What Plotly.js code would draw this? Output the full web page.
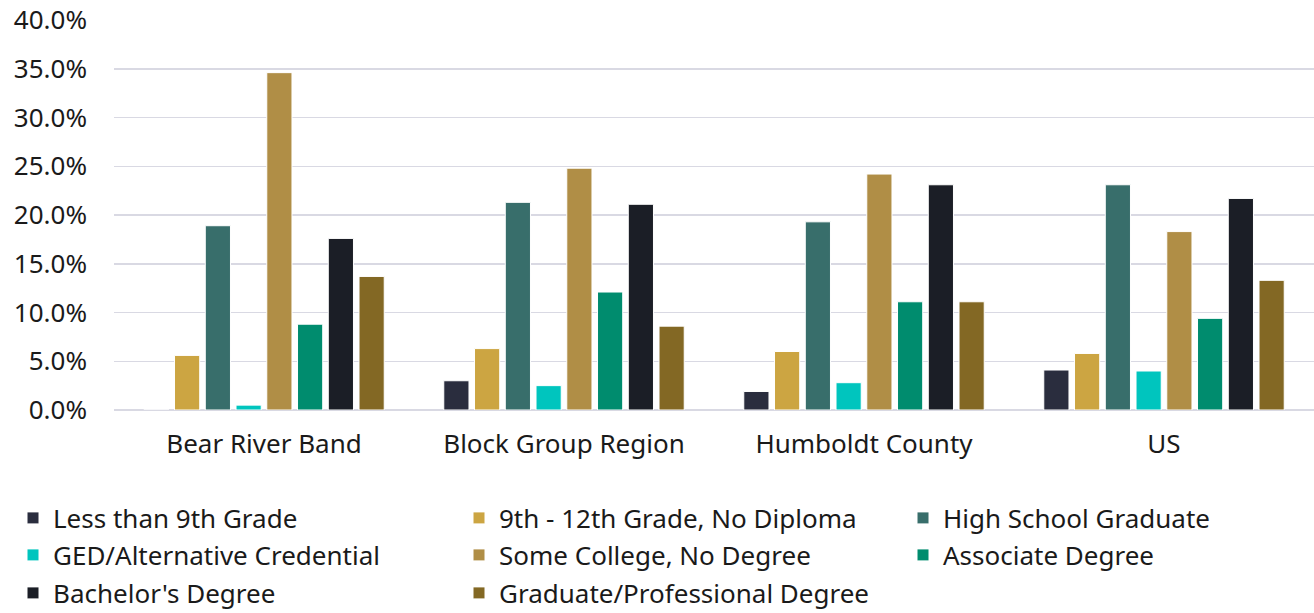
<!DOCTYPE html>
<html>
<head>
<meta charset="utf-8">
<script src="https://cdn.plot.ly/plotly-3.0.1.min.js"></script>
<style>html,body{margin:0;padding:0;background:#fff;}#chart{width:1314px;height:613px;}</style>
</head>
<body>
<div id="chart"></div>
<script>
const categories = ["Bear River Band", "Block Group Region", "Humboldt County", "US"];
const seriesNames = ["Less than 9th Grade", "9th - 12th Grade, No Diploma", "High School Graduate", "GED/Alternative Credential", "Some College, No Degree", "Associate Degree", "Bachelor's Degree", "Graduate/Professional Degree"];
const lessThan9th = [0.0, 3.0, 1.9, 4.1];
const grade9to12 = [5.6, 6.3, 6.0, 5.8];
const highSchool = [18.9, 21.3, 19.3, 23.1];
const ged = [0.5, 2.5, 2.8, 4.0];
const someCollege = [34.6, 24.8, 24.2, 18.3];
const associate = [8.8, 12.1, 11.1, 9.4];
const bachelor = [17.6, 21.1, 23.1, 21.7];
const graduate = [13.7, 8.6, 11.1, 13.3];
const colors = ["#2a2d3e", "#cca542", "#386e6b", "#00c5be", "#b08e46", "#008c6e", "#1b1e26", "#836824"];
const seriesValues = [lessThan9th, grade9to12, highSchool, ged, someCollege, associate, bachelor, graduate];

const font = "'Noto Sans', sans-serif";
const W = 1314, H = 613;
const plotTop = 20, plotH = 390.5, plotL = 114, plotW = 1200;
const colLeft = [13, 459, 903];
const rowMid = [518, 555, 593];

const traces = seriesNames.map((name, i) => ({
  type: "bar",
  name: name,
  x: categories,
  y: seriesValues[i].map(v => v / 100),
  legend: i === 0 ? "legend" : "legend" + (i + 1),
  marker: {color: colors[i], line: {color: "#ffffff", width: 1}},
  hoverinfo: "x+y+name"
}));

function legendAt(i) {
  const col = i % 3, row = Math.floor(i / 3);
  return {
    orientation: "h",
    xref: "container", yref: "container",
    x: colLeft[col] / W, xanchor: "left",
    y: (H - rowMid[row]) / H, yanchor: "middle",
    font: {family: font, size: 26, color: "#1a1a1a"},
    bgcolor: "rgba(0,0,0,0)"
  };
}

const layout = {
  width: W, height: H,
  margin: {l: plotL, r: 0, t: plotTop, b: H - plotTop - plotH},
  paper_bgcolor: "#ffffff", plot_bgcolor: "#ffffff",
  font: {family: font, color: "#1a1a1a", size: 26},
  barmode: "group",
  bargap: 0.18,
  bargroupgap: 0.18,
  showlegend: true,
  xaxis: {
    type: "category",
    showgrid: false,
    showline: false,
    ticks: "",
    tickfont: {family: font, size: 26, color: "#1a1a1a"},
    ticklabelstandoff: 16,
    automargin: false
  },
  yaxis: {
    range: [0, 0.4],
    dtick: 0.05,
    tickformat: ".1%",
    showgrid: true,
    gridcolor: "#d9d9e3",
    gridwidth: 1.5,
    zeroline: true,
    zerolinecolor: "#d9d9e3",
    zerolinewidth: 1.5,
    showline: false,
    ticks: "",
    tickfont: {family: font, size: 26, color: "#1a1a1a"},
    ticklabelstandoff: 26,
    automargin: false
  }
};
seriesNames.forEach((n, i) => { layout[i === 0 ? "legend" : "legend" + (i + 1)] = legendAt(i); });

Plotly.newPlot("chart", traces, layout, {displayModeBar: false, staticPlot: true});
</script>
</body>
</html>
